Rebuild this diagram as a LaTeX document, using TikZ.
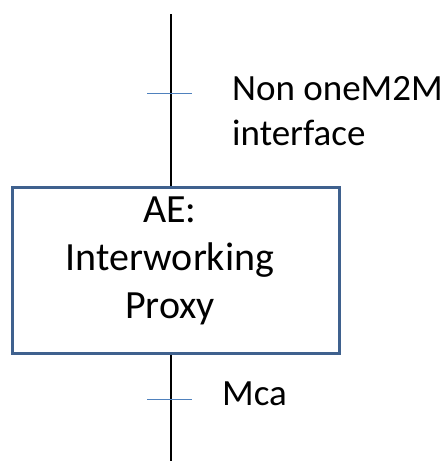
\documentclass[tikz,border=0pt]{standalone}
\usepackage{fontspec}
\setmainfont{Carlito}
\definecolor{boxblue}{HTML}{3F618E}
\definecolor{tickblue}{HTML}{4F81BD}
\begin{document}
\begin{tikzpicture}[x=1pt,y=-1pt,
  wire/.style={line width=1.4pt,black},
  tickline/.style={line width=1pt,tickblue},
  lbl/.style={font=\fontsize{37}{45}\selectfont,inner sep=0pt,anchor=base west},
  proxybox/.style={draw=boxblue,line width=3pt,fill=white,minimum width=327pt,minimum height=166pt,inner sep=0pt},
  boxtext/.style={font=\fontsize{40}{48}\selectfont,inner sep=0pt,anchor=base,align=center}]
\useasboundingbox (0,0) rectangle (443,461);
\node[proxybox] (iwp) at (175.5,270) {};
\coordinate (top) at (171,14);
\coordinate (bot) at (171,461);
\draw[wire] (top) -- (top |- iwp.north);
\draw[wire] (bot) -- (bot |- iwp.south);
\coordinate (t1a) at (147,93);
\coordinate (t1b) at (192,93);
\coordinate (t2a) at (147,399);
\coordinate (t2b) at (192,399);
\draw[tickline] (t1a) -- (t1b);
\draw[tickline] (t2a) -- (t2b);
\node[lbl] (nonl1) at (232,100) {Non oneM2M};
\node[lbl] (nonl2) at (232,145) {interface};
\node[lbl] (mca) at (222,405) {Mca};
\node[boxtext] (ae) at (170,222) {AE:};
\node[boxtext] (iw) at (170,270) {Interworking};
\node[boxtext] (px) at (170,318) {Proxy};
\end{tikzpicture}
\end{document}
